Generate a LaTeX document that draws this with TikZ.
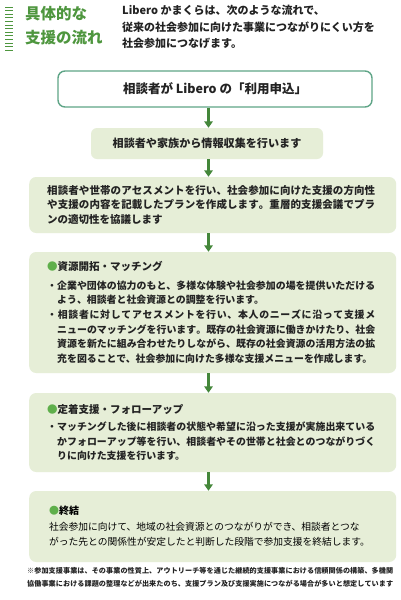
\documentclass[tikz,border=0pt]{standalone}
\usepackage{fontspec}
\usepackage{graphicx}
\setmainfont{Noto Sans CJK JP}
\usetikzlibrary{arrows.meta}
\definecolor{tgreen}{RGB}{78,150,62}
\definecolor{agreen}{RGB}{68,135,58}
\definecolor{bfill}{RGB}{230,238,215}
\definecolor{bline}{RGB}{95,165,135}
\definecolor{dotc}{RGB}{95,175,75}
\definecolor{ink}{RGB}{35,35,35}
\def\spreadit#1{\ifx#1\relax\else#1\hfill\expandafter\spreadit\fi}
\newcommand\jus[2]{\leavevmode\hbox to #1{\spreadit#2\relax\unskip}}
\newcommand\gdot{{\color{dotc}●}}
\tikzset{
  pbox/.style={fill=bfill, rounded corners=7pt, inner ysep=0pt, inner xsep=18pt,
    text width=331pt, align=left, anchor=west, text=ink},
  arr/.style={draw=agreen, line width=2.6pt, -{Triangle[width=8.5pt,length=6.5pt]}},
  stripe/.style={draw=tgreen, line width=0.9pt}
}
\begin{document}
\begin{tikzpicture}[x=1pt,y=-1pt]
\useasboundingbox[fill=white] (0,0) rectangle (401,600);
% header stripes
\foreach \i in {0,...,12} \draw[stripe] (5,7+3.6*\i) -- (13,7+3.6*\i);
\node[anchor=west, align=left, inner sep=0pt, text=tgreen,
  font=\bfseries\fontsize{15.5}{24}\selectfont] (ttl) at (25,26) {具体的な\\支援の流れ};
\node[anchor=west, align=left, inner sep=0pt, text=ink,
  font=\bfseries\fontsize{11}{16.5}\selectfont] (intro) at (122,27)
  {Libero かまくらは、次のような流れで、\\従来の社会参加に向けた事業につながりにくい方を\\社会参加につなげます。};
% boxes
\node[draw=bline, line width=1.4pt, fill=white, rounded corners=7pt, minimum width=314pt,
  minimum height=36pt, text=ink, font=\bfseries\fontsize{12.5}{14}\selectfont]
  (b1) at (215,89) {相談者が Libero の「利用申込」};
\node[fill=bfill, rounded corners=6pt, minimum width=232pt, minimum height=31pt, text=ink,
  font=\bfseries\fontsize{11.1}{13}\selectfont]
  (b2) at (207,143.5) {相談者や家族から情報収集を行います};
\node[pbox, minimum height=56pt, font=\bfseries\fontsize{10.5}{14.5}\selectfont] (b3) at (29,205)
  {\jus{328pt}{相談者や世帯のアセスメントを行い、社会参加に向けた支援の方向性}\\
   \jus{328pt}{や支援の内容を記載したプランを作成します。重層的支援会議でプラ}\\
   ンの適切性を協議します};
\node[pbox, minimum height=121pt, font=\bfseries\fontsize{9.9}{14.6}\selectfont] (b4) at (29,312.5)
  {{\fontsize{10.5}{14.6}\selectfont\gdot 資源開拓・マッチング}\\[4pt]
   \jus{328pt}{・企業や団体の協力のもと、多様な体験や社会参加の場を提供いただける}\\
   \hspace*{10pt}よう、相談者と社会資源との調整を行います。\\
   \jus{328pt}{・相談者に対してアセスメントを行い、本人のニーズに沿って支援メ}\\
   \hspace*{10pt}\jus{318pt}{ニューのマッチングを行います。既存の社会資源に働きかけたり、社会}\\
   \hspace*{10pt}\jus{318pt}{資源を新たに組み合わせたりしながら、既存の社会資源の活用方法の拡}\\
   \hspace*{10pt}充を図ることで、社会参加に向けた多様な支援メニューを作成します。};
\node[pbox, minimum height=79pt, font=\bfseries\fontsize{9.9}{14.2}\selectfont] (b5) at (29,432.5)
  {{\fontsize{10.5}{14.2}\selectfont\gdot 定着支援・フォローアップ}\\[3pt]
   \jus{328pt}{・マッチングした後に相談者の状態や希望に沿った支援が実施出来ている}\\
   \hspace*{10pt}\jus{318pt}{かフォローアップ等を行い、相談者やその世帯と社会とのつながりづく}\\
   \hspace*{10pt}りに向けた支援を行います。};
\node[pbox, minimum height=71pt, inner xsep=20pt, text width=327pt, text=black,
  font=\fontsize{9.75}{15.5}\selectfont] (b6) at (29,526.5)
  {{\bfseries\fontsize{10}{15.5}\selectfont\gdot 終結}\\
   社会参加に向けて、地域の社会資源とのつながりができ、相談者とつな\\
   がった先との関係性が安定したと判断した段階で参加支援を終結します。};
% footnote
\node[anchor=west, align=left, inner sep=0pt, text=ink,
  font=\bfseries\fontsize{7.1}{13}\selectfont] (note) at (27,577.5)
  {\jus{366pt}{※参加支援事業は、その事業の性質上、アウトリーチ等を通じた継続的支援事業における信頼関係の構築、多機関}\\
   \jus{366pt}{協働事業における課題の整理などが出来たのち、支援プラン及び支援実施につながる場合が多いと想定しています}};
% arrows
\coordinate (ax) at (208.5,0);
\draw[arr] (b1.south -| ax) -- (b2.north -| ax);
\draw[arr] (b2.south -| ax) -- (b3.north -| ax);
\draw[arr] (b3.south -| ax) -- (b4.north -| ax);
\draw[arr] (b4.south -| ax) -- (b5.north -| ax);
\draw[arr] (b5.south -| ax) -- (b6.north -| ax);
\end{tikzpicture}
\end{document}
